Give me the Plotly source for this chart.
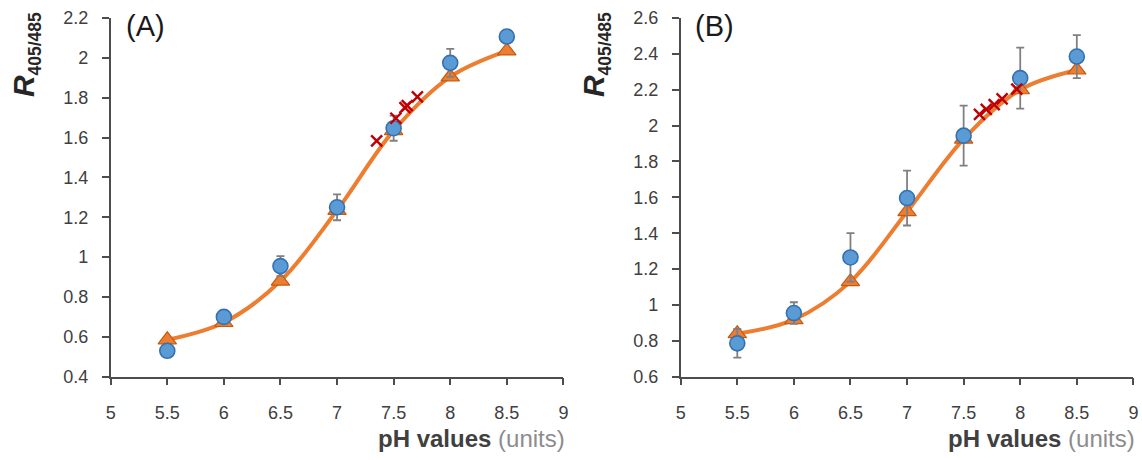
import plotly.graph_objects as go

# ---- data ----
ph = [5.5, 6.0, 6.5, 7.0, 7.5, 8.0, 8.5]

# Panel A
a_measured = [0.53, 0.70, 0.955, 1.25, 1.647, 1.975, 2.107]
a_err = [0.02, 0.02, 0.05, 0.065, 0.063, 0.07, 0.02]
a_fit = [0.585, 0.672, 0.88, 1.235, 1.635, 1.905, 2.035]
a_cross_ph = [7.35, 7.52, 7.60, 7.62, 7.71]
a_cross_r = [1.583, 1.697, 1.75, 1.76, 1.804]

# Panel B
b_measured = [0.786, 0.955, 1.265, 1.596, 1.944, 2.265, 2.385]
b_err = [0.08, 0.06, 0.135, 0.153, 0.167, 0.17, 0.12]
b_fit = [0.84, 0.918, 1.13, 1.52, 1.925, 2.2, 2.31]
b_cross_ph = [7.64, 7.70, 7.77, 7.84, 7.97]
b_cross_r = [2.063, 2.09, 2.117, 2.149, 2.203]

x_ticks = [5, 5.5, 6, 6.5, 7, 7.5, 8, 8.5, 9]
x_tick_text = ["5", "5.5", "6", "6.5", "7", "7.5", "8", "8.5", "9"]
a_y_ticks = [0.4, 0.6, 0.8, 1.0, 1.2, 1.4, 1.6, 1.8, 2.0, 2.2]
a_y_text = ["0.4", "0.6", "0.8", "1", "1.2", "1.4", "1.6", "1.8", "2", "2.2"]
b_y_ticks = [0.6, 0.8, 1.0, 1.2, 1.4, 1.6, 1.8, 2.0, 2.2, 2.4, 2.6]
b_y_text = ["0.6", "0.8", "1", "1.2", "1.4", "1.6", "1.8", "2", "2.2", "2.4", "2.6"]
panel_labels = ["(A)", "(B)"]

# ---- styling ----
W, H = 1142, 460
FONT = "Liberation Sans, Arial, sans-serif"
AXIS_COL = "#4d4d4d"
TICK_COL = "#404040"
ORANGE = "#ed7d31"
ORANGE_DARK = "#c55a11"
BLUE = "#5b9bd5"
BLUE_DARK = "#3571b0"
RED = "#c00000"

fig = go.Figure()


def add_panel(xa, ya, measured, err, fit, cph, cr):
    fig.add_trace(go.Scatter(x=ph, y=fit, mode="lines", xaxis=xa, yaxis=ya,
                             line=dict(color=ORANGE, width=4, shape="spline", smoothing=1.0),
                             showlegend=False, hoverinfo="skip"))
    fig.add_trace(go.Scatter(x=ph, y=fit, mode="markers", xaxis=xa, yaxis=ya,
                             marker=dict(symbol="triangle-up", size=16, color=ORANGE,
                                         line=dict(color=ORANGE_DARK, width=1.2)),
                             showlegend=False))
    fig.add_trace(go.Scatter(x=ph, y=measured, mode="markers", xaxis=xa, yaxis=ya,
                             error_y=dict(type="data", array=err, visible=True,
                                          color="#808080", thickness=1.8, width=4),
                             marker=dict(symbol="circle", size=15, color=BLUE,
                                         line=dict(color=BLUE_DARK, width=1.6)),
                             showlegend=False))
    fig.add_trace(go.Scatter(x=cph, y=cr, mode="markers", xaxis=xa, yaxis=ya,
                             marker=dict(symbol="x-thin", size=11,
                                         line=dict(color=RED, width=2.4), color=RED),
                             showlegend=False))


add_panel("x", "y", a_measured, a_err, a_fit, a_cross_ph, a_cross_r)
add_panel("x2", "y2", b_measured, b_err, b_fit, b_cross_ph, b_cross_r)

# pixel geometry
left_axis_px = [110.7, 680.7]
right_axis_px = [563.4, 1133.4]
top_px, bottom_px = 18.0, 376.7
ydom = [(H - bottom_px) / H, (H - top_px) / H]

common_x = dict(range=[5, 9], tickvals=x_ticks, ticktext=x_tick_text,
                showgrid=False, zeroline=False, showline=True, linecolor=AXIS_COL,
                linewidth=1.5, ticks="outside", ticklen=7, tickwidth=1.5,
                tickcolor=AXIS_COL, ticklabelstandoff=12, automargin=False,
                tickfont=dict(family=FONT, size=18, color=TICK_COL))
common_y = dict(showgrid=False, zeroline=False, showline=True, linecolor=AXIS_COL,
                linewidth=1.5, ticks="outside", ticklen=7, tickwidth=1.5,
                tickcolor=AXIS_COL, ticklabelstandoff=10, automargin=False,
                tickfont=dict(family=FONT, size=18, color=TICK_COL))

fig.update_layout(
    template="none",
    width=W, height=H,
    autosize=False,
    margin=dict(l=0, r=0, t=0, b=0, pad=0, autoexpand=False),
    paper_bgcolor="white", plot_bgcolor="white",
    xaxis=dict(domain=[left_axis_px[0] / W, right_axis_px[0] / W], anchor="y", **common_x),
    yaxis=dict(domain=ydom, anchor="x", range=[0.4, 2.2], tickvals=a_y_ticks,
               ticktext=a_y_text, **common_y),
    xaxis2=dict(domain=[left_axis_px[1] / W, right_axis_px[1] / W], anchor="y2", **common_x),
    yaxis2=dict(domain=ydom, anchor="x2", range=[0.6, 2.6], tickvals=b_y_ticks,
                ticktext=b_y_text, **common_y),
)

annotations = []
for i in range(2):
    off = 570 * i
    # y-axis title: R (bold italic) + subscript 405/485
    annotations.append(dict(xref="paper", yref="paper", x=(23 + off) / W, y=1 - 86 / H,
                            text="<b><i>R</i></b>", textangle=-90, showarrow=False,
                            xanchor="center", yanchor="middle",
                            font=dict(family=FONT, size=30, color="#262626")))
    annotations.append(dict(xref="paper", yref="paper", x=(35 + off) / W, y=1 - 43.5 / H,
                            text="<b>405/485</b>", textangle=-90, showarrow=False,
                            xanchor="center", yanchor="middle",
                            font=dict(family=FONT, size=17.5, color="#262626")))
    # panel label
    annotations.append(dict(xref="paper", yref="paper", x=(145 + off) / W, y=1 - 26 / H,
                            text=panel_labels[i], showarrow=False,
                            xanchor="center", yanchor="middle",
                            font=dict(family=FONT, size=29, color="#1a1a1a")))
    # x-axis title
    annotations.append(dict(xref="paper", yref="paper", x=(567 + off) / W, y=1 - 438 / H,
                            text="<b>pH values</b> <span style='color:#8c8c8c'>(units)</span>",
                            showarrow=False, xanchor="right", yanchor="middle",
                            font=dict(family=FONT, size=24, color="#404040")))

fig.update_layout(annotations=annotations)

fig.write_html("out.html", config={"responsive": False, "displayModeBar": False},
               post_script="document.body.style.margin='0';document.body.style.padding='0';document.body.style.overflow='hidden';")
